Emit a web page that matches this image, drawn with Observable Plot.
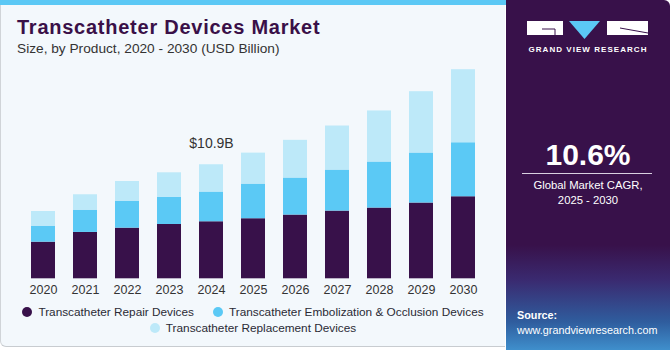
<!DOCTYPE html>
<html>
<head>
<meta charset="utf-8">
<script src="https://cdn.jsdelivr.net/npm/d3@7"></script>
<script src="https://cdn.jsdelivr.net/npm/@observablehq/plot@0.6"></script>
<style>
  html, body { margin: 0; padding: 0; }
  body { width: 670px; height: 350px; overflow: hidden; font-family: "Liberation Sans", Arial, sans-serif; background: #fff; }
  #card { position: absolute; left: 0; top: 0; width: 505px; height: 347px; background: #f3f8fc;
          border-left: 1px solid #d0d4d8; border-bottom: 1px solid #c8ccd0; border-bottom-left-radius: 6px; box-sizing: border-box; }
  #stripe { position: absolute; left: 0; top: 0; width: 506px; height: 5px; background: #5bc8f5; }
  #title { position: absolute; left: 17px; top: 16px; font-size: 20px; font-weight: bold; letter-spacing: 0.75px; color: #3a1048; white-space: nowrap; }
  #subtitle { position: absolute; left: 17px; top: 41px; font-size: 13.7px; color: #333; white-space: nowrap; }
  #chart { position: absolute; left: 0; top: 0; }
  #legend { position: absolute; left: 0; top: 304px; width: 506px; font-size: 11.8px; color: #2a2a35; }
  .row { display: flex; justify-content: center; gap: 19px; height: 16px; line-height: 16px; }
  .item { display: flex; align-items: center; white-space: nowrap; }
  .dot { width: 10px; height: 10px; border-radius: 50%; margin-right: 6px; display: inline-block; }
  #panel { position: absolute; left: 506px; top: 0; width: 164px; height: 350px; border-top-right-radius: 6px;
           background: linear-gradient(to bottom, #38114a 0%, #38114a 70%, #3a2a70 80%, #2f5d9e 92%, #3f8fcc 100%); color: #fff; }
  #logoText { position: absolute; left: 0; width: 164px; top: 45px; text-align: center; font-size: 8px; font-weight: bold; letter-spacing: 1.05px; color: #fff; }
  #cagr { position: absolute; left: 0; width: 164px; top: 138px; text-align: center; font-size: 30px; font-weight: bold; }
  #rule { position: absolute; left: 16px; width: 130px; top: 173px; height: 1px; background: #d8d0e0; }
  #cagrText { position: absolute; left: 0; width: 164px; top: 178px; text-align: center; font-size: 11.3px; line-height: 15px; }
  #src { position: absolute; left: 11px; top: 308px; font-size: 10.8px; line-height: 14.5px; }
</style>
</head>
<body>
<div id="card"></div>
<div id="stripe"></div>
<div id="chart"></div>
<div id="title">Transcatheter Devices Market</div>
<div id="subtitle">Size, by Product, 2020 - 2030 (USD Billion)</div>
<div id="legend"></div>
<div id="panel">
  <svg width="164" height="45" style="position:absolute;left:0;top:0">
    <rect x="21" y="21" width="36" height="14" fill="#fff"/>
    <line x1="36" y1="29" x2="49" y2="29" stroke="#38114a" stroke-width="1"/>
    <line x1="49" y1="29" x2="49" y2="35" stroke="#38114a" stroke-width="1"/>
    <polygon points="63,21 94,21 78.5,39" fill="#5bc8f5"/>
    <rect x="101" y="21" width="41" height="14" fill="#fff"/>
    <line x1="114" y1="28" x2="142" y2="33" stroke="#38114a" stroke-width="1"/>
  </svg>
  <div id="logoText">GRAND VIEW RESEARCH</div>
  <div id="cagr">10.6%</div>
  <div id="rule"></div>
  <div id="cagrText">Global Market CAGR,<br>2025 - 2030</div>
  <div id="src"><b>Source:</b><br>www.grandviewresearch.com</div>
</div>
<script>
const years = [2020, 2021, 2022, 2023, 2024, 2025, 2026, 2027, 2028, 2029, 2030];
const seriesNames = ["Transcatheter Repair Devices", "Transcatheter Embolization & Occlusion Devices", "Transcatheter Replacement Devices"];
const seriesColors = ["#38114a", "#5bc9f5", "#bde9f9"];
const repair = [3.50, 4.43, 4.84, 5.19, 5.45, 5.74, 6.09, 6.47, 6.76, 7.24, 7.84];
const embolization = [1.53, 2.13, 2.58, 2.61, 2.84, 3.31, 3.54, 3.92, 4.40, 4.78, 5.16];
const replacement = [1.40, 1.47, 1.88, 2.33, 2.61, 2.96, 3.60, 4.21, 4.88, 5.86, 6.98];
const labelYear = 2024;
const labelText = "$10.9B";

const seriesValues = [repair, embolization, replacement];
const rows = [];
years.forEach((yr, i) => {
  seriesNames.forEach((s, j) => rows.push({year: String(yr), series: s, value: seriesValues[j][i]}));
});
const li = years.indexOf(labelYear);
const labelData = [{year: String(labelYear), total: repair[li] + embolization[li] + replacement[li], text: labelText}];

const chart = Plot.plot({
  width: 506,
  height: 300,
  marginLeft: 13,
  marginRight: 13,
  marginTop: 69,
  marginBottom: 21.7,
  style: {background: "transparent", fontFamily: "Liberation Sans, Arial, sans-serif"},
  x: {type: "band", domain: years.map(String), padding: 0.4286, round: false, label: null},
  y: {domain: [0, 20], axis: null},
  color: {domain: seriesNames, range: seriesColors},
  marks: [
    Plot.barY(rows, Plot.stackY({order: seriesNames}, {x: "year", y: "value", fill: "series"})),
    Plot.text(labelData, {x: "year", y: "total", text: "text", dy: -21, fontSize: 14, fill: "#333"}),
    Plot.axisX({tickSize: 0, tickPadding: 6, fontSize: 12.5, color: "#333", label: null})
  ]
});
document.getElementById("chart").appendChild(chart);

const legend = document.getElementById("legend");
const groups = [[0, 1], [2]];
groups.forEach(g => {
  const row = document.createElement("div");
  row.className = "row";
  g.forEach(j => {
    const item = document.createElement("div");
    item.className = "item";
    const dot = document.createElement("span");
    dot.className = "dot";
    dot.style.background = seriesColors[j];
    item.appendChild(dot);
    item.appendChild(document.createTextNode(seriesNames[j]));
    row.appendChild(item);
  });
  legend.appendChild(row);
});
</script>
</body>
</html>
